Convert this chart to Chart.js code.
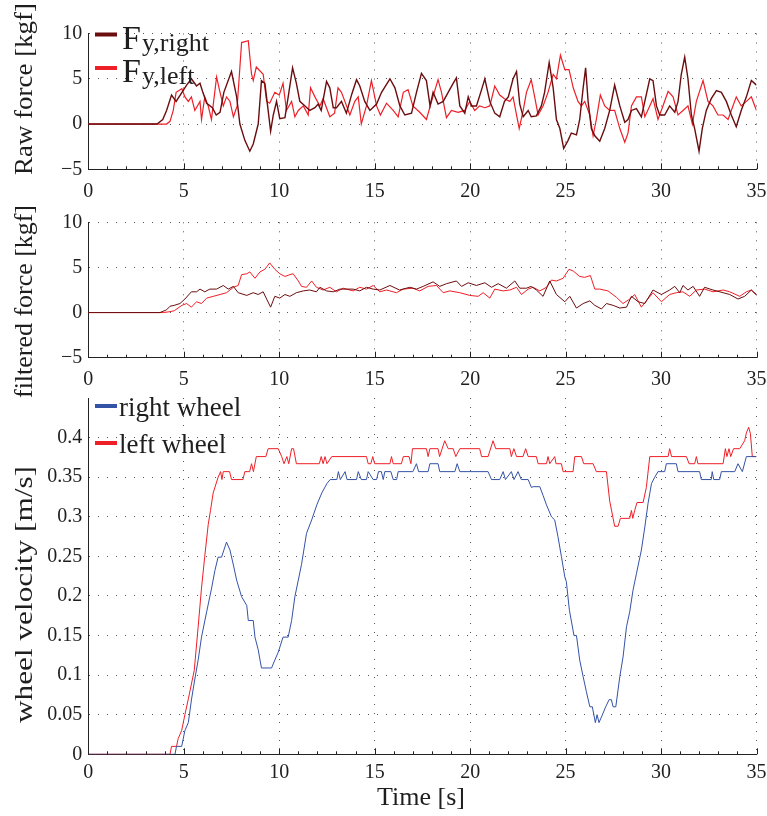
<!DOCTYPE html>
<html>
<head>
<meta charset="utf-8">
<script src="https://cdn.jsdelivr.net/npm/chart.js@4.4.1/dist/chart.umd.min.js"></script>
<style>
  html, body { margin: 0; padding: 0; background: #fff; }
  #lienzo { position: relative; width: 767px; height: 816px; }
  #lienzo canvas { position: absolute; left: 0; }
</style>
</head>
<body>
<div id="lienzo">
  <canvas id="graficoCrudo" width="767" height="200" style="top:0"></canvas>
  <canvas id="graficoFiltrado" width="767" height="210" style="top:200px"></canvas>
  <canvas id="graficoVelocidad" width="767" height="426" style="top:390px"></canvas>
</div>
<script>
// ---- datos ----
const tiempoMax = 35;

const nombresFuerza = ['y,right', 'y,left'];
const nombresRueda = ['right wheel', 'left wheel'];

// fuerza cruda, rueda derecha
const crudoDerT = [0, 3.6, 3.9, 4.1, 4.36, 4.6, 5.15, 5.4, 5.67, 5.85,
  6.0, 6.2, 6.5, 6.7, 6.9, 7.1, 7.5, 7.77, 7.94, 8.2,
  8.46, 8.64, 8.9, 9.07, 9.25, 9.42, 9.55, 9.69, 9.86, 10.03,
  10.3, 10.47, 10.7, 10.9, 11.08, 11.35, 11.6, 11.87, 12.04, 12.2,
  12.48, 12.65, 12.83, 13.0, 13.26, 13.52, 13.8, 14.05, 14.22, 14.48,
  14.75, 15.1, 15.36, 15.8, 16.06, 16.32, 16.58, 16.93, 17.19, 17.45,
  17.71, 17.9, 18.06, 18.32, 18.59, 18.85, 19.11, 19.28, 19.46, 19.72,
  19.9, 20.07, 20.33, 20.6, 20.77, 21.03, 21.29, 21.55, 21.8, 22.0,
  22.25, 22.43, 22.6, 22.78, 23.04, 23.2, 23.47, 23.73, 23.9, 24.14,
  24.35, 24.52, 24.7, 24.9, 25.13, 25.3, 25.57, 25.74, 25.92, 26.05,
  26.18, 26.35, 26.53, 26.79, 27.05, 27.31, 27.57, 27.84, 28.1, 28.27,
  28.45, 28.71, 28.97, 29.15, 29.41, 29.58, 29.76, 29.93, 30.19, 30.45,
  30.72, 30.89, 31.06, 31.24, 31.41, 31.59, 31.76, 31.99, 32.16, 32.37,
  32.63, 32.9, 33.16, 33.42, 33.68, 33.94, 34.2, 34.47, 34.73, 35];
const crudoDerF = [0, 0, 0.5, 1.5, 3.2, 2.5, 4.3, 5.0, 4.2, 4.5,
  3.5, 2.3, 1.8, 1.0, 1.3, 3.5, 5.8, 3.0, 0, -1.8,
  -3.0, -2.2, 0, 4.8, 4.5, 1.5, -0.8, 1.0, 2.5, 0.6,
  0.7, 3.0, 6.2, 4.5, 2.5, 2.0, 1.5, 1.8, 2.2, 1.5,
  4.7, 4.0, 1.8, 1.8, 2.5, 1.2, 3.3, 4.9, 4.2, 2.5,
  1.5, 2.2, 3.5, 5.0, 4.0, 2.0, 1.0, 1.2, 3.5, 5.6,
  4.8, 2.0, 3.5, 2.2, 2.5, 3.5, 4.5, 5.1, 2.0, 1.2,
  3.0, 2.0, 2.0, 3.8, 5.0, 2.5, 1.2, 0.8, 2.5, 3.0,
  5.0, 5.8, 2.2, 0.8, 1.5, 0.8, 0.9, 2.0, 3.5, 6.8,
  4.0, 0.5, -0.5, -2.7, -1.8, -1.0, -1.2, 0.5, 4.0, 6.2,
  2.5, -0.5, -1.3, -1.9, -0.5, 1.5, 4.3, 2.0, 0.2, 0.5,
  1.5, 1.7, 0.8, 2.5, 5.0, 4.8, 2.0, 1.0, 1.0, 2.0,
  1.3, 2.5, 5.5, 7.4, 5.0, 1.0, -0.5, -3.0, -0.5, 1.5,
  2.8, 3.7, 3.5, 2.5, 1.0, -0.3, 1.5, 3.0, 4.8, 4.3];

// fuerza cruda, rueda izquierda
const crudoIzqT = [0, 4.1, 4.28, 4.45, 4.6, 4.9, 5.06, 5.24, 5.4, 5.58,
  5.85, 5.93, 6.1, 6.28, 6.45, 6.72, 6.9, 7.07, 7.24, 7.42,
  7.6, 7.8, 8.03, 8.38, 8.55, 8.64, 8.8, 9.16, 9.34, 9.5,
  9.77, 10.0, 10.2, 10.38, 10.65, 10.82, 11.0, 11.26, 11.52, 11.64,
  11.87, 12.13, 12.3, 12.65, 12.9, 13.08, 13.26, 13.44, 13.7, 13.96,
  14.14, 14.3, 14.57, 14.83, 15.1, 15.3, 15.62, 15.97, 16.23, 16.5,
  16.75, 17.0, 17.36, 17.71, 17.98, 18.32, 18.5, 18.76, 19.02, 19.37,
  19.72, 19.98, 20.24, 20.5, 20.77, 21.03, 21.29, 21.55, 21.8, 22.08,
  22.25, 22.43, 22.57, 22.78, 22.95, 23.2, 23.38, 23.56, 23.82, 24.08,
  24.35, 24.52, 24.73, 24.96, 25.18, 25.4, 25.65, 25.83, 26.0, 26.27,
  26.44, 26.61, 26.82, 27.05, 27.31, 27.57, 27.84, 28.1, 28.27, 28.45,
  28.71, 28.97, 29.15, 29.41, 29.58, 29.84, 30.1, 30.37, 30.63, 30.89,
  31.15, 31.41, 31.64, 31.85, 32.2, 32.46, 32.72, 32.98, 33.25, 33.51,
  33.68, 33.94, 34.2, 34.47, 34.73, 35];
const crudoIzqF = [0, 0, 0.3, 1.5, 3.5, 3.9, 3.0, 2.5, 3.0, 1.5,
  2.5, 0.5, 3.0, 2.0, 0.5, 5.2, 3.5, 2.0, 3.0, 2.5,
  0.8, 2.0, 9.0, 9.2, 5.5, 4.8, 6.3, 5.5, 2.5, 2.3,
  3.5, 3.2, 4.5, 1.5, 2.5, 0.8, 1.5, 2.0, 1.0, 4.0,
  3.0, 2.0, 2.8, 0.8, 1.2, 4.0, 3.5, 2.5, 1.0, 2.5,
  3.0, 0.0, 2.0, 4.8, 2.0, 1.0, 2.3, 1.5, 0.8, 3.5,
  3.8, 2.0, 1.3, 0.5, 2.5, 4.9, 3.5, 0.7, 1.5, 1.3,
  1.5, 2.5, 1.5, 2.0, 1.8, 2.0, 4.2, 3.2, 2.8, 2.5,
  3.0, 1.0, -0.5, 1.5, 3.5, 4.9, 3.0, 1.0, 2.0, 3.5,
  5.5, 5.0, 7.6, 6.0, 6.0, 4.0, 2.5, 2.0, 2.5, 1.0,
  -1.3, 0.5, 3.2, 2.0, 1.5, 1.5, -0.5, -2.0, -1.0, 2.0,
  3.0, 3.0, 0.8, 2.0, 2.8, 0.5, 2.0, 3.6, 3.0, 1.0,
  1.5, 2.0, 0.0, 2.5, 4.8, 2.5, 2.0, 1.0, 1.0, 0.5,
  1.5, 3.0, 2.0, 2.5, 3.0, 1.5];

// fuerza filtrada, rueda derecha
const filtDerT = [0, 3.75, 4.1, 4.28, 4.5, 4.8, 5.06, 5.4, 5.67, 5.85,
  6.1, 6.37, 6.72, 7.07, 7.33, 7.6, 7.85, 8.3, 8.64, 8.9,
  9.16, 9.34, 9.55, 9.77, 10.03, 10.3, 10.56, 10.9, 11.26, 11.6,
  11.95, 12.13, 12.48, 12.83, 13.18, 13.52, 13.87, 14.22, 14.57, 14.92,
  15.27, 15.8, 16.3, 16.84, 17.19, 17.54, 18.06, 18.41, 18.76, 19.28,
  19.55, 19.9, 20.33, 20.77, 21.12, 21.47, 21.9, 22.34, 22.6, 22.95,
  23.2, 23.47, 23.82, 24.17, 24.52, 24.96, 25.22, 25.57, 25.92, 26.27,
  26.53, 26.88, 27.14, 27.49, 27.84, 28.19, 28.45, 28.8, 29.15, 29.58,
  30.02, 30.45, 30.72, 30.98, 31.15, 31.41, 31.68, 32.02, 32.28, 32.72,
  33.25, 33.6, 34.03, 34.38, 34.73, 35];
const filtDerF = [0, 0, 0.3, 0.7, 0.8, 1.0, 1.5, 2.3, 2.3, 2.6,
  2.3, 2.6, 2.6, 3.0, 2.6, 2.9, 2.2, 1.9, 2.2, 2.0,
  2.3, 1.5, 0.6, 1.8, 1.6, 2.0, 1.8, 2.2, 2.4, 2.5,
  2.3, 2.8, 2.4, 2.3, 2.6, 2.6, 2.6, 2.4, 2.8, 2.6,
  2.5, 3.0, 2.5, 2.8, 2.6, 2.9, 3.4, 2.9, 3.2, 3.5,
  2.9, 3.3, 3.0, 3.3, 2.8, 3.2, 2.7, 3.5, 2.7, 2.7,
  2.9, 2.5, 1.8, 3.5, 2.0, 1.2, 1.8, 0.5, 1.0, 1.3,
  0.8, 0.4, 1.0, 0.8, 0.5, 0.6, 1.8, 1.2, 1.0, 2.5,
  2.0, 2.5, 2.9, 2.2, 3.0, 2.5, 2.9, 1.8, 2.8, 2.5,
  2.2, 2.0, 1.5, 1.8, 2.5, 2.0];

// fuerza filtrada, rueda izquierda
const filtIzqT = [0, 3.93, 4.28, 4.5, 4.9, 5.15, 5.4, 5.67, 5.93, 6.2,
  6.55, 6.9, 7.24, 7.6, 7.85, 8.03, 8.3, 8.46, 8.73, 8.99,
  9.25, 9.5, 9.77, 10.03, 10.3, 10.56, 10.73, 11.0, 11.17, 11.43,
  11.7, 11.95, 12.3, 12.65, 13.0, 13.35, 13.87, 14.22, 14.57, 14.92,
  15.27, 15.62, 16.14, 16.5, 17.0, 17.36, 17.8, 18.24, 18.59, 18.94,
  19.46, 19.98, 20.42, 20.68, 21.03, 21.29, 21.73, 22.08, 22.43, 22.69,
  23.04, 23.3, 23.65, 24.0, 24.26, 24.52, 24.87, 25.18, 25.4, 25.74,
  26.0, 26.3, 26.53, 26.79, 27.22, 27.66, 28.01, 28.36, 28.62, 28.97,
  29.23, 29.58, 30.02, 30.45, 30.8, 31.15, 31.5, 31.85, 32.28, 32.72,
  33.25, 33.6, 34.12, 34.47, 34.73, 35];
const filtIzqF = [0, 0, 0.1, 0.2, 0.8, 1.0, 0.6, 1.2, 1.0, 1.6,
  1.8, 2.0, 2.2, 2.8, 3.0, 4.2, 4.3, 4.5, 3.8, 4.5,
  4.8, 5.5, 4.8, 4.3, 4.0, 4.2, 4.3, 3.5, 2.9, 2.8,
  3.5, 2.8, 2.5, 2.8, 2.3, 2.7, 2.4, 2.8, 2.6, 3.0,
  2.3, 2.5, 2.2, 2.6, 2.7, 2.4, 2.9, 3.0, 2.2, 2.4,
  2.2, 1.9, 1.8, 2.2, 1.6, 2.6, 2.4, 2.5, 2.8, 2.0,
  2.6, 2.8, 2.4, 2.8, 3.6, 3.5, 3.8, 4.8, 4.6, 4.0,
  3.9, 4.1, 2.6, 2.6, 2.4, 1.7, 1.0, 1.5, 2.0, 0.6,
  1.3, 2.2, 1.2, 2.0, 2.2, 2.3, 1.8, 2.5, 2.6, 2.3,
  2.5, 2.3, 1.8, 2.3, 2.5, 1.9];

// velocidad rueda derecha
const velDerT = [0, 4.54, 4.62, 4.89, 5.06, 5.24, 5.41, 5.58, 5.76, 5.93,
  6.2, 6.46, 6.63, 6.8, 6.98, 7.24, 7.42, 7.6, 7.77, 8.03,
  8.3, 8.38, 8.64, 8.73, 8.9, 9.07, 9.6, 9.77, 9.95, 10.2,
  10.47, 10.65, 10.82, 11.0, 11.17, 11.43, 11.7, 11.97, 12.23, 12.5,
  12.67, 13.02, 13.1, 13.2, 13.45, 13.55, 14.05, 14.14, 14.3, 14.57,
  14.66, 14.92, 15.1, 15.2, 15.35, 15.45, 15.53, 15.85, 15.97, 16.15,
  16.23, 17.0, 17.19, 17.3, 17.8, 17.89, 18.32, 18.41, 19.2, 19.32,
  19.46, 20.94, 21.12, 21.55, 21.73, 21.85, 22.16, 22.3, 22.51, 22.68,
  23.04, 23.21, 23.3, 23.65, 23.82, 24.0, 24.26, 24.43, 24.6, 24.78,
  24.96, 25.04, 25.2, 25.44, 25.57, 25.74, 25.92, 26.09, 26.27, 26.4,
  26.56, 26.65, 26.75, 26.93, 27.1, 27.28, 27.4, 27.49, 27.63, 27.84,
  28.01, 28.19, 28.36, 28.53, 28.71, 28.97, 29.15, 29.32, 29.5, 29.67,
  29.84, 30.19, 30.28, 30.8, 30.89, 32.02, 32.11, 32.63, 32.68, 32.76,
  33.07, 33.16, 33.86, 34.03, 34.26, 34.47, 35];
const velDerV = [0, 0, 0.01, 0.01, 0.03, 0.04, 0.07, 0.095, 0.12, 0.148,
  0.18, 0.21, 0.232, 0.249, 0.249, 0.268, 0.258, 0.239, 0.22, 0.199,
  0.188, 0.169, 0.169, 0.148, 0.132, 0.109, 0.109, 0.119, 0.129, 0.148,
  0.148, 0.169, 0.199, 0.22, 0.24, 0.279, 0.296, 0.315, 0.33, 0.342,
  0.347, 0.347, 0.357, 0.347, 0.357, 0.347, 0.347, 0.357, 0.347, 0.347,
  0.357, 0.347, 0.347, 0.357, 0.357, 0.347, 0.357, 0.357, 0.347, 0.347,
  0.357, 0.357, 0.367, 0.357, 0.357, 0.367, 0.367, 0.357, 0.357, 0.367,
  0.357, 0.357, 0.347, 0.347, 0.357, 0.347, 0.357, 0.347, 0.357, 0.347,
  0.347, 0.337, 0.338, 0.338, 0.327, 0.315, 0.300, 0.296, 0.275, 0.25,
  0.224, 0.218, 0.182, 0.15, 0.15, 0.119, 0.098, 0.079, 0.06, 0.06,
  0.04, 0.05, 0.04, 0.05, 0.06, 0.069, 0.069, 0.06, 0.06, 0.098,
  0.123, 0.161, 0.18, 0.207, 0.228, 0.258, 0.287, 0.317, 0.342, 0.35,
  0.357, 0.357, 0.367, 0.367, 0.357, 0.357, 0.347, 0.347, 0.357, 0.347,
  0.347, 0.357, 0.357, 0.367, 0.357, 0.376, 0.376];

// velocidad rueda izquierda
const velIzqT = [0, 4.28, 4.36, 4.62, 4.71, 4.89, 5.06, 5.24, 5.55, 5.75,
  5.93, 6.1, 6.28, 6.4, 6.54, 6.8, 6.93, 7.0, 7.07, 7.4,
  7.5, 8.1, 8.2, 8.45, 8.55, 8.65, 8.8, 9.3, 9.42, 9.95,
  10.13, 10.25, 10.4, 10.5, 10.65, 10.75, 10.9, 12.1, 12.2, 12.3,
  12.4, 12.5, 12.75, 14.57, 14.66, 14.8, 14.9, 15.0, 15.8, 15.88,
  15.97, 16.4, 16.5, 16.8, 16.9, 16.98, 17.71, 17.8, 17.89, 18.32,
  18.4, 18.67, 18.85, 19.11, 19.25, 19.46, 20.5, 20.6, 20.94, 21.2,
  21.34, 22.08, 22.16, 22.29, 22.43, 22.77, 22.91, 23.04, 23.47, 23.56,
  24.0, 24.08, 24.17, 24.43, 24.5, 24.78, 24.87, 25.39, 25.48, 25.83,
  25.95, 26.44, 26.61, 27.14, 27.31, 27.49, 27.57, 27.75, 27.87, 28.36,
  28.45, 28.52, 28.62, 28.74, 29.06, 29.23, 29.41, 30.37, 30.45, 30.55,
  31.33, 31.47, 31.76, 31.85, 31.93, 33.25, 33.37, 33.45, 33.56, 33.65,
  33.8, 34.12, 34.38, 34.47, 34.59, 34.68, 34.78, 35];
const velIzqV = [0, 0, 0.01, 0.01, 0.02, 0.03, 0.05, 0.07, 0.106, 0.16,
  0.21, 0.25, 0.29, 0.308, 0.33, 0.35, 0.357, 0.347, 0.357, 0.357,
  0.347, 0.347, 0.357, 0.357, 0.367, 0.357, 0.376, 0.376, 0.386, 0.386,
  0.376, 0.367, 0.376, 0.367, 0.386, 0.386, 0.367, 0.367, 0.376, 0.367,
  0.376, 0.367, 0.376, 0.376, 0.367, 0.367, 0.376, 0.367, 0.367, 0.376,
  0.367, 0.367, 0.376, 0.376, 0.367, 0.386, 0.386, 0.376, 0.386, 0.386,
  0.376, 0.396, 0.386, 0.386, 0.376, 0.386, 0.386, 0.376, 0.376, 0.396,
  0.386, 0.386, 0.376, 0.386, 0.376, 0.376, 0.386, 0.376, 0.376, 0.367,
  0.367, 0.376, 0.367, 0.376, 0.367, 0.367, 0.357, 0.357, 0.376, 0.376,
  0.367, 0.367, 0.357, 0.357, 0.32, 0.298, 0.288, 0.288, 0.298, 0.298,
  0.308, 0.298, 0.308, 0.318, 0.318, 0.337, 0.376, 0.376, 0.386, 0.376,
  0.376, 0.367, 0.367, 0.376, 0.367, 0.367, 0.386, 0.376, 0.386, 0.376,
  0.386, 0.386, 0.396, 0.406, 0.413, 0.405, 0.376, 0.376];

// ---- estilo ----
const FUENTE = '"Liberation Serif", "Times New Roman", serif';
const COLOR_TEXTO = '#1e1e1e';
const ROJO_OSCURO = '#6b0d0f';
const ROJO = '#ee1f27';
const AZUL = '#3452a6';

const puntos = (ts, vs) => ts.map((t, i) => ({ x: t, y: vs[i] }));
const menos = v => String(v).replace('-', '\u2212');

function escalaX(altoEje, pad) {
  return {
    type: 'linear', min: 0, max: tiempoMax,
    ticks: { stepSize: 5, color: COLOR_TEXTO, font: { family: FUENTE, size: 20 }, padding: pad, maxRotation: 0, autoSkip: false },
    grid: { color: '#555', lineWidth: 1, drawTicks: false },
    border: { display: true, color: '#222', width: 1, dash: [1, 8] },
    afterFit: s => { s.height = altoEje; s.paddingLeft = 0; s.paddingRight = 0; }
  };
}

function escalaY(min, max, paso, formato) {
  return {
    min, max,
    ticks: { stepSize: paso, color: COLOR_TEXTO, font: { family: FUENTE, size: 20 }, padding: 6, callback: formato },
    grid: { color: '#555', lineWidth: 1, drawTicks: false },
    border: { display: true, color: '#222', width: 1, dash: [1, 8] },
    afterFit: s => { s.width = 88.3; s.paddingTop = 0; s.paddingBottom = 0; }
  };
}

// marcas menores del eje x, titulos y leyendas dibujadas a mano
function adornos(cfg) {
  return {
    id: 'adornos',
    afterDraw(chart) {
      const { ctx, chartArea, scales: { x } } = chart;
      ctx.save();
      ctx.strokeStyle = '#222';
      ctx.lineWidth = 1;
      for (let v = 0; v <= tiempoMax; v++) {
        const px = Math.round(x.getPixelForValue(v)) + 0.5;
        const largo = v % 5 === 0 ? 6 : 3;
        ctx.beginPath();
        ctx.moveTo(px, chartArea.bottom);
        ctx.lineTo(px, chartArea.bottom - largo);
        ctx.stroke();
      }

      // titulo vertical
      const t = cfg.titulo;
      ctx.fillStyle = COLOR_TEXTO;
      ctx.font = `26px ${FUENTE}`;
      const ancho = ctx.measureText(t.texto).width;
      ctx.translate(25, t.centro);
      ctx.rotate(-Math.PI / 2);
      ctx.scale(t.largo / ancho, 1);
      ctx.textAlign = 'center';
      ctx.textBaseline = 'middle';
      ctx.fillText(t.texto, 0, 0);
      ctx.setTransform(1, 0, 0, 1, 0, 0);

      if (cfg.tituloX) {
        ctx.textAlign = 'center';
        ctx.textBaseline = 'middle';
        ctx.font = `26px ${FUENTE}`;
        ctx.fillText(cfg.tituloX.texto, cfg.tituloX.x, cfg.tituloX.y);
      }

      // leyenda
      (cfg.leyenda || []).forEach(it => {
        ctx.strokeStyle = it.color;
        ctx.lineWidth = 4;
        ctx.beginPath();
        ctx.moveTo(95, it.y);
        ctx.lineTo(117, it.y);
        ctx.stroke();
        ctx.fillStyle = COLOR_TEXTO;
        ctx.textAlign = 'left';
        ctx.textBaseline = 'alphabetic';
        if (it.sub) {
          ctx.font = `34px ${FUENTE}`;
          ctx.fillText('F', 122, it.y + 14);
          ctx.font = `26px ${FUENTE}`;
          ctx.fillText(it.sub, 142, it.y + 16);
        } else {
          ctx.font = `27px ${FUENTE}`;
          ctx.fillText(it.texto, 119, it.y + 10);
        }
      });
      ctx.restore();
    }
  };
}

function linea(datos, color, ancho) {
  return { data: datos, borderColor: color, borderWidth: ancho, pointRadius: 0, tension: 0, fill: false };
}

function opcionesBase(padTop, x, y) {
  return {
    responsive: false,
    animation: false,
    layout: { padding: { top: padTop, right: 10.5, left: 0, bottom: 0 } },
    plugins: { legend: { display: false }, tooltip: { enabled: false } },
    scales: { x, y }
  };
}

document.addEventListener('DOMContentLoaded', () => {
  cargarCrudo();
  cargarFiltrado();
  cargarVelocidad();
});

function cargarCrudo() {
  const ctx = document.getElementById('graficoCrudo').getContext('2d');
  new Chart(ctx, {
    type: 'line',
    data: {
      datasets: [
        linea(puntos(crudoDerT, crudoDerF), ROJO_OSCURO, 1.4),
        linea(puntos(crudoIzqT, crudoIzqF), ROJO, 1.2)
      ]
    },
    options: opcionesBase(33.5, escalaX(30.7, 10), escalaY(-5, 10, 5, v => menos(v))),
    plugins: [adornos({
      titulo: { texto: 'Raw force [kgf]', centro: 89, largo: 172 },
      leyenda: [
        { color: ROJO_OSCURO, y: 34.5, sub: nombresFuerza[0] },
        { color: ROJO, y: 68, sub: nombresFuerza[1] }
      ]
    })]
  });
}

function cargarFiltrado() {
  const ctx = document.getElementById('graficoFiltrado').getContext('2d');
  new Chart(ctx, {
    type: 'line',
    data: {
      datasets: [
        linea(puntos(filtDerT, filtDerF), ROJO_OSCURO, 1),
        linea(puntos(filtIzqT, filtIzqF), ROJO, 1)
      ]
    },
    options: opcionesBase(22.3, escalaX(52.3, 10), escalaY(-5, 10, 5, v => menos(v))),
    plugins: [adornos({
      titulo: { texto: 'filtered force [kgf]', centro: 101.5, largo: 193 }
    })]
  });
}

function cargarVelocidad() {
  const ctx = document.getElementById('graficoVelocidad').getContext('2d');
  const y = escalaY(0, 0.45, 0.05, v => String(Number(v.toFixed(2))));
  y.afterBuildTicks = s => { s.ticks = s.ticks.filter(t => t.value <= 0.4001); };
  new Chart(ctx, {
    type: 'line',
    data: {
      datasets: [
        linea(puntos(velDerT, velDerV), AZUL, 1),
        linea(puntos(velIzqT, velIzqV), ROJO, 1)
      ]
    },
    options: opcionesBase(8, escalaX(61.7, 6), y),
    plugins: [adornos({
      titulo: { texto: 'wheel velocity [m/s]', centro: 204.5, largo: 257 },
      tituloX: { texto: 'Time [s]', x: 421, y: 408 },
      leyenda: [
        { color: AZUL, y: 406, texto: nombresRueda[0] },
        { color: ROJO, y: 443, texto: nombresRueda[1] }
      ].map(it => ({ ...it, y: it.y - 390 }))
    })]
  });
}
</script>
</body>
</html>
